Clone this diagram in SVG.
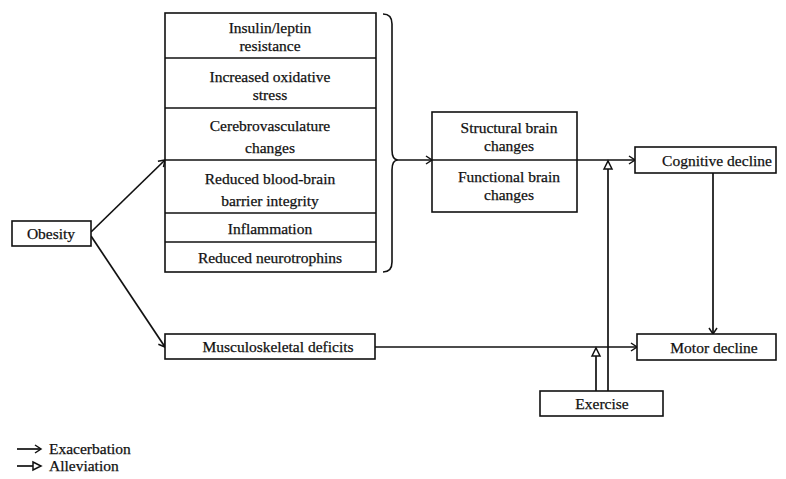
<svg xmlns="http://www.w3.org/2000/svg" width="786" height="479" viewBox="0 0 786 479">
  <defs>
    <style>
      .box { fill: #fff; stroke: #111; stroke-width: 1.6; }
      .div { stroke: #111; stroke-width: 1.4; }
      .t { font-family: "Liberation Serif", "Times New Roman", serif; font-size: 15.5px; fill: #111; stroke: #111; stroke-width: 0.25; text-anchor: middle; }
      .tl { font-family: "Liberation Serif", "Times New Roman", serif; font-size: 15.5px; fill: #111; stroke: #111; stroke-width: 0.25; }
      .ex { fill: none; stroke: #111; stroke-width: 1.7; marker-end: url(#exa); }
      .al { fill: none; stroke: #111; stroke-width: 1.7; marker-end: url(#alv); }
      .ln { fill: none; stroke: #111; stroke-width: 1.6; }
    </style>
    <!-- open chevron head: exacerbation -->
    <marker id="exa" markerUnits="userSpaceOnUse" markerWidth="12" markerHeight="12" refX="8" refY="5" orient="auto" viewBox="0 0 12 10">
      <path d="M2,1 L8,5 L2,9" fill="none" stroke="#111" stroke-width="1.5"/>
    </marker>
    <!-- hollow triangle head: alleviation -->
    <marker id="alv" markerUnits="userSpaceOnUse" markerWidth="12" markerHeight="12" refX="9" refY="5" orient="auto" viewBox="0 0 12 10">
      <path d="M1,1 L9,5 L1,9 Z" fill="#fff" stroke="#111" stroke-width="1.5"/>
    </marker>
  </defs>

  <rect width="786" height="479" fill="#fff"/>

  <!-- connectors -->
  <g id="connectors">
    <path class="ex" d="M91,232 L165,160"/>
    <path class="ex" d="M91,236 L165,347"/>
    <path class="ex" d="M398,160 L432,160"/>
    <path class="ex" d="M577,160 L635,160"/>
    <path class="ex" d="M713,173 L713,334"/>
    <path class="ex" d="M375,347 L637,347"/>
    <path class="al" d="M596,391 L596,348"/>
    <path class="al" d="M608,391 L608,161"/>
    <!-- brace grouping the mechanisms -->
    <path class="ln" d="M383,14 Q392,14 392,24 L392,150 Q392,160 398,160 Q392,160 392,170 L392,262 Q392,272 383,272"/>
  </g>

  <g id="obesity">
    <rect class="box" x="12" y="221" width="79" height="25"/>
    <text class="t" x="51" y="239">Obesity</text>
  </g>

  <g id="mechanisms">
    <rect class="box" x="165" y="13" width="211" height="259"/>
    <line class="div" x1="165" y1="58" x2="376" y2="58"/>
    <line class="div" x1="165" y1="108" x2="376" y2="108"/>
    <line class="div" x1="165" y1="160" x2="376" y2="160"/>
    <line class="div" x1="165" y1="213" x2="376" y2="213"/>
    <line class="div" x1="165" y1="242" x2="376" y2="242"/>
    <text class="t" x="270" y="33">Insulin/leptin</text>
    <text class="t" x="270" y="51">resistance</text>
    <text class="t" x="270" y="82">Increased oxidative</text>
    <text class="t" x="270" y="100">stress</text>
    <text class="t" x="270" y="131">Cerebrovasculature</text>
    <text class="t" x="270" y="153">changes</text>
    <text class="t" x="270" y="184">Reduced blood-brain</text>
    <text class="t" x="270" y="206">barrier integrity</text>
    <text class="t" x="270" y="234">Inflammation</text>
    <text class="t" x="270" y="263">Reduced neurotrophins</text>
  </g>

  <g id="brain-changes">
    <rect class="box" x="432" y="112" width="145" height="100"/>
    <line class="div" x1="432" y1="160" x2="577" y2="160"/>
    <text class="t" x="509" y="133">Structural brain</text>
    <text class="t" x="509" y="151">changes</text>
    <text class="t" x="509" y="182">Functional brain</text>
    <text class="t" x="509" y="200">changes</text>
  </g>

  <g id="cognitive-decline">
    <rect class="box" x="635" y="147" width="141" height="26"/>
    <text class="t" x="717" y="166">Cognitive decline</text>
  </g>

  <g id="musculoskeletal">
    <rect class="box" x="165" y="334" width="210" height="25"/>
    <text class="t" x="278" y="352">Musculoskeletal deficits</text>
  </g>

  <g id="motor-decline">
    <rect class="box" x="637" y="334" width="139" height="26"/>
    <text class="t" x="714" y="353">Motor decline</text>
  </g>

  <g id="exercise">
    <rect class="box" x="540" y="391" width="123" height="25"/>
    <text class="t" x="602" y="409">Exercise</text>
  </g>

  <g id="legend">
    <path class="ex" d="M17,449 L41,449"/>
    <text class="tl" x="49" y="454">Exacerbation</text>
    <path class="al" d="M17,466 L41,466"/>
    <text class="tl" x="49" y="471">Alleviation</text>
  </g>
</svg>
